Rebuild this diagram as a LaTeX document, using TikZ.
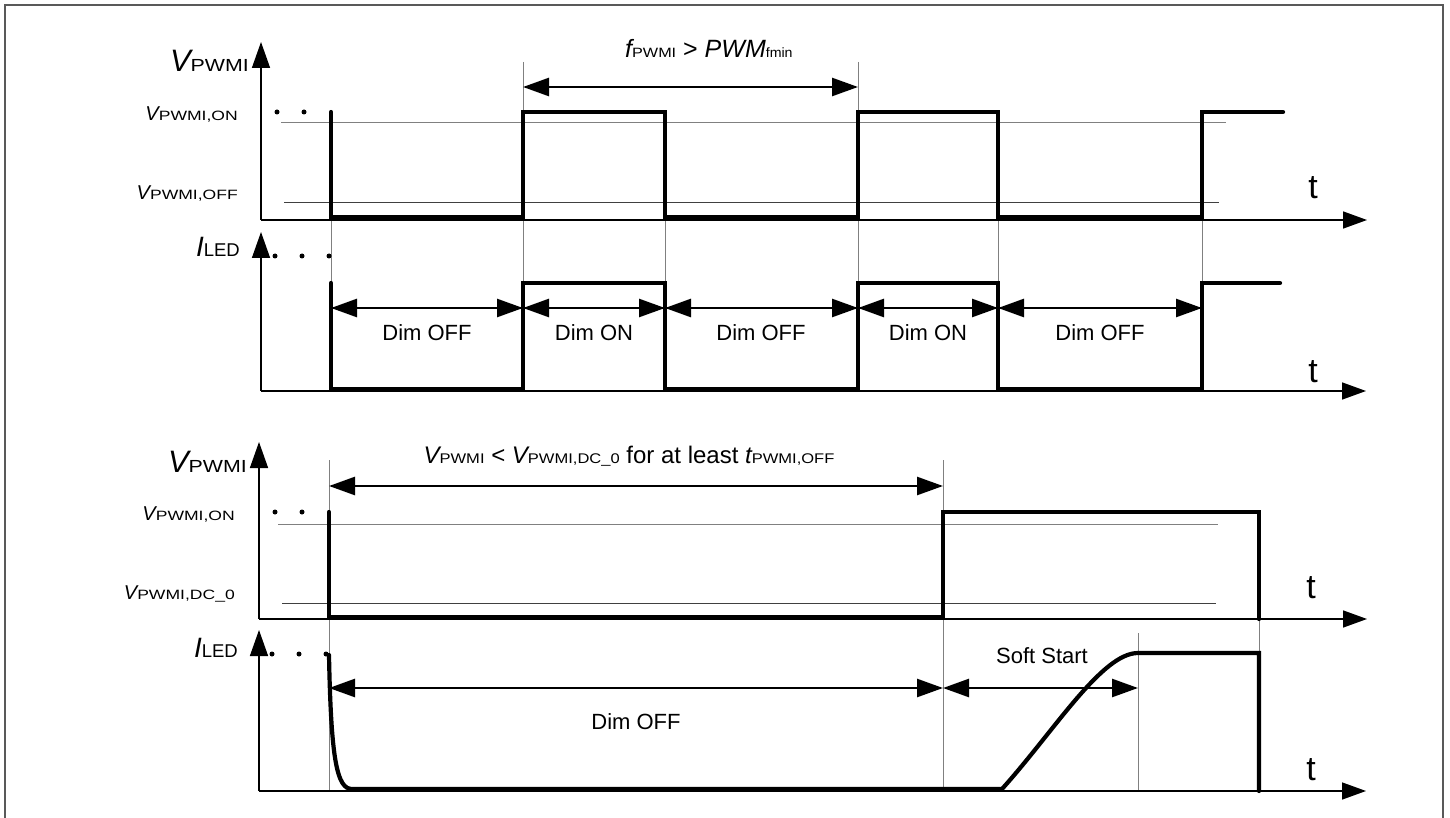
\documentclass[tikz,border=0pt]{standalone}
\usepackage{fontspec}
\setmainfont{Liberation Sans}
\usepackage{graphicx}
\usetikzlibrary{arrows.meta}
\newcommand\subx[3]{\scalebox{#2}[1]{\fontsize{#1}{#1}\selectfont #3}}
\newcommand\fs[1]{\fontsize{#1}{#1}\selectfont}
\begin{document}
\begin{tikzpicture}[x=1pt,y=-1pt,
 axis/.style={line width=1.5pt,-{Triangle[length=24pt,width=17pt]}},
 yaxis/.style={line width=1.5pt,-{Triangle[length=26pt,width=18pt]}},
 wave/.style={line width=4.2pt,line cap=round,line join=miter},
 dimarr/.style={line width=2.6pt,{Triangle[length=26pt,width=18pt]}-{Triangle[length=26pt,width=18pt]}},
 tick/.style={line width=0.9pt,gray},
 thr/.style={line width=1pt,gray},
 thrd/.style={line width=1pt,black!75},
 dotc/.style={circle,fill,inner sep=0pt,minimum size=5pt},
 lbl/.style={inner sep=0pt},
 dimtxt/.style={inner sep=0pt,font=\fs{22}},
 ttxt/.style={inner sep=0pt,font=\fs{34}},
]
\useasboundingbox (0,0) rectangle (1450,818);
% frame
\draw[gray!70!black,line width=1.2pt] (5,830) -- (5,5) -- (1443,5) -- (1443,830);

%================ TOP PANEL =================
\coordinate (A1o) at (261,220);
\coordinate (A1y) at (261,42);
\coordinate (A1x) at (1367,220);
\coordinate (B1o) at (261,391);
\coordinate (B1y) at (261,232);
\coordinate (B1x) at (1366,391);

% thresholds
\draw[thr] (281,123) -- (1226,123);
\draw[thrd] (284,203) -- (1219,203);
% ticks
\foreach \x in {331,523,665,858,998,1202} \draw[tick] (\x,220) -- (\x,391);
\draw[tick] (523,62) -- (523,112);
\draw[tick] (858,62) -- (858,112);

\draw[yaxis] (A1o) -- (A1y);
\draw[axis] (A1o) -- (A1x);
\draw[yaxis] (B1o) -- (B1y);
\draw[axis] (B1o) -- (B1x);

% waveforms
\draw[wave] (331,112) -- (331,217) -- (523,217) -- (523,112) -- (665,112) -- (665,217)
  -- (858,217) -- (858,112) -- (998,112) -- (998,217) -- (1202,217) -- (1202,112) -- (1283,112);
\draw[wave] (331,283) -- (331,389) -- (523,389) -- (523,283) -- (665,283) -- (665,389)
  -- (858,389) -- (858,283) -- (998,283) -- (998,389) -- (1202,389) -- (1202,283) -- (1280,283);

% dots
\node[dotc] (p1) at (277,112) {};
\node[dotc] (p2) at (304,112) {};
\node[dotc] (p3) at (275,256) {};
\node[dotc] (p4) at (302,256) {};
\node[dotc] (p5) at (329,256) {};

% labels
\node[lbl,anchor=base east] (l1) at (249,72) {\fs{31}\itshape V\upshape\subx{17.5}{1.22}{PWMI}};
\node[lbl,anchor=base east] (l2) at (238,121) {\fs{20}\itshape V\upshape\subx{13.5}{1.3}{PWMI,ON}};
\node[lbl,anchor=base east] (l3) at (238,200) {\fs{20}\itshape V\upshape\subx{13.5}{1.3}{PWMI,OFF}};
\node[lbl,anchor=base east] (l4) at (240,257) {\fs{28}\itshape I\upshape\subx{18.5}{1}{LED}};
\node[lbl,anchor=base west] (lf) at (625,58) {\fs{25}\itshape f\upshape\subx{13.5}{1.2}{PWMI}\fs{25} > \itshape PWM\upshape\subx{13.5}{1.05}{fmin}};

\node[ttxt] (t1) at (1313,188) {t};
\node[ttxt] (t2) at (1313,372) {t};

% f arrow
\coordinate (f0) at (523,87);
\coordinate (f1) at (858,87);
\draw[dimarr] (f0) -- (f1);

% dim arrows
\foreach \i/\x in {0/331,1/523,2/665,3/858,4/998,5/1202} \coordinate (d\i) at (\x,308);
\draw[dimarr] (d0) -- (d1);
\draw[dimarr] (d1) -- (d2);
\draw[dimarr] (d2) -- (d3);
\draw[dimarr] (d3) -- (d4);
\draw[dimarr] (d4) -- (d5);
\node[dimtxt] (m1) at (427,333) {Dim OFF};
\node[dimtxt] (m2) at (594,333) {Dim ON};
\node[dimtxt] (m3) at (761,333) {Dim OFF};
\node[dimtxt] (m4) at (928,333) {Dim ON};
\node[dimtxt] (m5) at (1100,333) {Dim OFF};

%================ BOTTOM PANEL =================
\coordinate (C1o) at (259,619);
\coordinate (C1y) at (259,442);
\coordinate (C1x) at (1367,619);
\coordinate (D1o) at (259,791);
\coordinate (D1y) at (259,630);
\coordinate (D1x) at (1366,791);

\draw[thr] (278,524) -- (1218,524);
\draw[thrd] (282,603) -- (1216,603);

\draw[tick] (329,460) -- (329,512);
\draw[tick] (943,460) -- (943,512);
\draw[tick] (329,619) -- (329,791);
\draw[tick] (943,619) -- (943,791);
\draw[tick] (1259,619) -- (1259,791);
\draw[tick] (1138,633) -- (1138,791);

\draw[yaxis] (C1o) -- (C1y);
\draw[axis] (C1o) -- (C1x);
\draw[yaxis] (D1o) -- (D1y);
\draw[axis] (D1o) -- (D1x);

\draw[wave] (329,512) -- (329,617) -- (943,617) -- (943,512) -- (1259,512) -- (1259,619);
\draw[wave] (329,655) .. controls (331,760) and (337,789) .. (352,789) -- (1002,789)
  .. controls (1055,730) and (1102,653) .. (1138,653) -- (1259,653) -- (1259,791);

\node[dotc] (q1) at (275,512) {};
\node[dotc] (q2) at (302,512) {};
\node[dotc] (q3) at (272,654) {};
\node[dotc] (q4) at (299,654) {};
\node[dotc] (q5) at (326,654) {};

\node[lbl,anchor=base east] (k1) at (247,472) {\fs{31}\itshape V\upshape\subx{17.5}{1.22}{PWMI}};
\node[lbl,anchor=base east] (k2) at (235,520) {\fs{20}\itshape V\upshape\subx{13.5}{1.3}{PWMI,ON}};
\node[lbl,anchor=base east] (k3) at (235,599) {\fs{20}\itshape V\upshape\subx{13.5}{1.3}{PWMI,DC\_0}};
\node[lbl,anchor=base east] (k4) at (238,657) {\fs{28}\itshape I\upshape\subx{18.5}{1}{LED}};

\node[lbl,anchor=base] (kc) at (629,463) {\fs{24}\itshape V\upshape\subx{14}{1.18}{PWMI}\fs{24} < \itshape V\upshape\subx{14}{1.18}{PWMI,DC\_0}\fs{24} for at least \itshape t\upshape\subx{14}{1.18}{PWMI,OFF}};

\node[ttxt] (t3) at (1311,588) {t};
\node[ttxt] (t4) at (1311,770) {t};

\coordinate (e0) at (329,486);
\coordinate (e1) at (943,486);
\draw[dimarr] (e0) -- (e1);

\coordinate (g0) at (329,688);
\coordinate (g1) at (943,688);
\coordinate (g2) at (1138,688);
\draw[dimarr] (g0) -- (g1);
\draw[dimarr] (g1) -- (g2);
\node[dimtxt] (n1) at (636,722) {Dim OFF};
\node[dimtxt] (n2) at (1042,656) {Soft Start};
\end{tikzpicture}
\end{document}
